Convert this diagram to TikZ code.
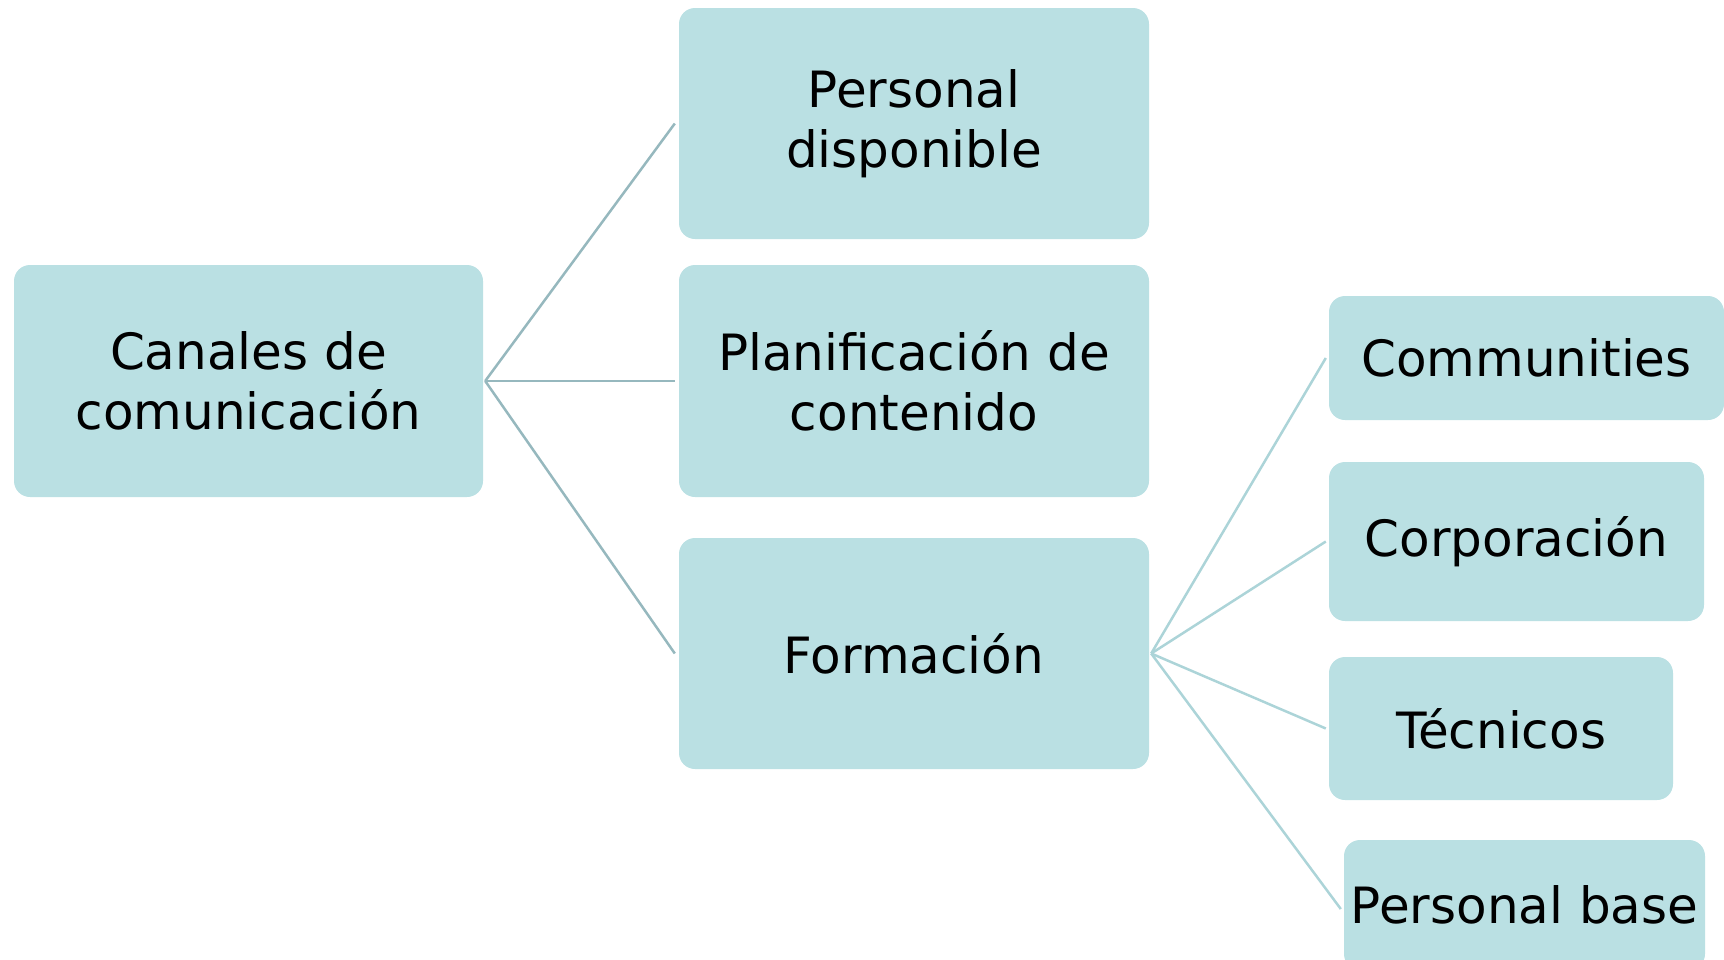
\documentclass[tikz,border=0pt]{standalone}
\usepackage{fontspec}
\setmainfont{DejaVu Sans}
\definecolor{boxfill}{RGB}{186,224,227}
\definecolor{lineA}{RGB}{150,184,190}
\definecolor{lineB}{RGB}{172,212,216}
\begin{document}
\begin{tikzpicture}[x=1pt,y=-1pt,
  box/.style={fill=boxfill, rounded corners=16pt, inner sep=0pt, align=center,
    font=\fontsize{50}{60}\selectfont, text=black},
  linkA/.style={draw=lineA, line width=2.5pt},
  linkB/.style={draw=lineB, line width=2.5pt}]
\useasboundingbox (0,0) rectangle (1724,959);
\node[box, minimum width=469pt, minimum height=232pt] (can) at (248.5,381) {Canales de\\comunicación};
\node[box, minimum width=470pt, minimum height=231pt] (pd) at (914,123.5) {Personal\\disponible};
\node[box, minimum width=470pt, minimum height=232pt] (pl) at (914,381) {Planificación de\\contenido};
\node[box, minimum width=470pt, minimum height=231pt] (fo) at (914,653.5) {Formación};
\node[box, minimum width=395pt, minimum height=124pt] (com) at (1526.5,358) {Communities};
\node[box, minimum width=375pt, minimum height=159pt] (cor) at (1516.5,541.5) {Corporación};
\node[box, minimum width=344pt, minimum height=143pt] (tec) at (1501,728.5) {Técnicos};
\node[box, minimum width=361pt, minimum height=130pt] (pb) at (1524.5,905) {Personal base};
\draw[linkA] ([xshift=2pt]can.east) -- ([xshift=-4pt]pd.west);
\draw[linkA] ([xshift=2pt]can.east) -- ([xshift=-4pt]pl.west);
\draw[linkA] ([xshift=2pt]can.east) -- ([xshift=-4pt]fo.west);
\draw[linkB] ([xshift=2pt]fo.east) -- ([xshift=-3pt]com.west);
\draw[linkB] ([xshift=2pt]fo.east) -- ([xshift=-3pt]cor.west);
\draw[linkB] ([xshift=2pt]fo.east) -- ([xshift=-3pt]tec.west);
\draw[linkB] ([xshift=2pt]fo.east) -- ([xshift=-3pt,yshift=-4pt]pb.west);
\end{tikzpicture}
\end{document}
